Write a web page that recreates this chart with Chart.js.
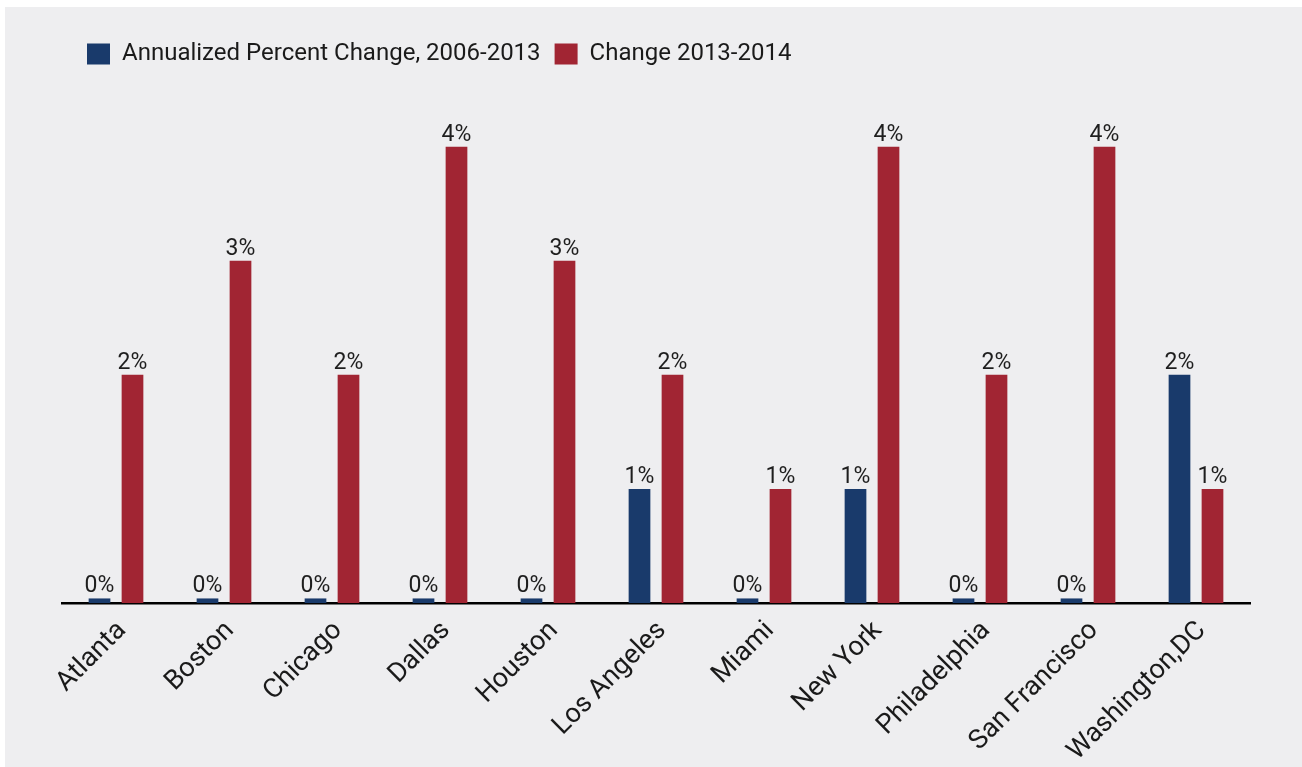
<!DOCTYPE html>
<html>
<head>
<meta charset="utf-8">
<script src="https://cdn.jsdelivr.net/npm/chart.js@4.4.1/dist/chart.umd.min.js"></script>
<style>
  html, body { margin: 0; padding: 0; background: #ffffff; }
  #wrap { position: absolute; left: 5px; top: 7px; width: 1297px; height: 760px; background: #eeeef0; }
  canvas { display: block; }
</style>
</head>
<body>
<div id="wrap"><canvas id="chart" width="1297" height="760"></canvas></div>
<script>
// ─── DATA ────────────────────────────────────────────────────
const cities = ['Atlanta', 'Boston', 'Chicago', 'Dallas', 'Houston', 'Los Angeles',
  'Miami', 'New York', 'Philadelphia', 'San Francisco', 'Washington,DC'];
const annualized0613 = [0.04, 0.04, 0.04, 0.04, 0.04, 1, 0.04, 1, 0.04, 0.04, 2];
const change1314 = [2, 3, 2, 4, 3, 2, 1, 4, 2, 4, 1];
const seriesNames = ['Annualized Percent Change, 2006-2013', 'Change 2013-2014'];

const BLUE = '#193a6b';
const RED = '#a12533';
const FONT = 'Roboto';

// value labels above each bar
const barLabels = {
  id: 'barLabels',
  afterDatasetsDraw(chart) {
    const ctx = chart.ctx;
    ctx.save();
    ctx.font = `23px ${FONT}`;
    ctx.fillStyle = '#1e1e1e';
    ctx.textAlign = 'center';
    ctx.textBaseline = 'alphabetic';
    chart.data.datasets.forEach((ds, i) => {
      chart.getDatasetMeta(i).data.forEach((bar, j) => {
        ctx.fillText(Math.round(ds.data[j]) + '%', bar.x, bar.y - 6);
      });
    });
    ctx.restore();
  }
};

// nudge legend to the right so it lines up with the reference
const legendShift = {
  id: 'legendShift',
  afterLayout(chart) {
    chart.legend.left += 11;
    chart.legend.right += 11;
  }
};

new Chart(document.getElementById('chart'), {
  type: 'bar',
  data: {
    labels: cities,
    datasets: [
      { label: seriesNames[0], data: annualized0613, backgroundColor: BLUE },
      { label: seriesNames[1], data: change1314, backgroundColor: RED }
    ]
  },
  options: {
    responsive: false,
    animation: false,
    layout: { padding: { left: 57, right: 52, top: 21, bottom: 0 } },
    datasets: { bar: { categoryPercentage: 0.611, barPercentage: 0.658 } },
    plugins: {
      legend: {
        position: 'top',
        align: 'start',
        labels: {
          boxWidth: 23, boxHeight: 21, padding: 14,
          color: '#1a1a1a',
          font: { family: FONT, size: 24 }
        }
      },
      tooltip: { enabled: false }
    },
    scales: {
      x: {
        grid: { display: false, drawTicks: false },
        border: { display: true, color: '#000000', width: 2.5 },
        ticks: {
          color: '#1a1a1a',
          font: { family: FONT, size: 27 },
          maxRotation: 45, minRotation: 45,
          padding: 12, labelOffset: 6, autoSkip: false
        },
        afterFit(scale) { scale.height = 164; }
      },
      y: {
        display: false,
        min: 0,
        max: 4.62
      }
    }
  },
  plugins: [barLabels, legendShift]
});
</script>
</body>
</html>
